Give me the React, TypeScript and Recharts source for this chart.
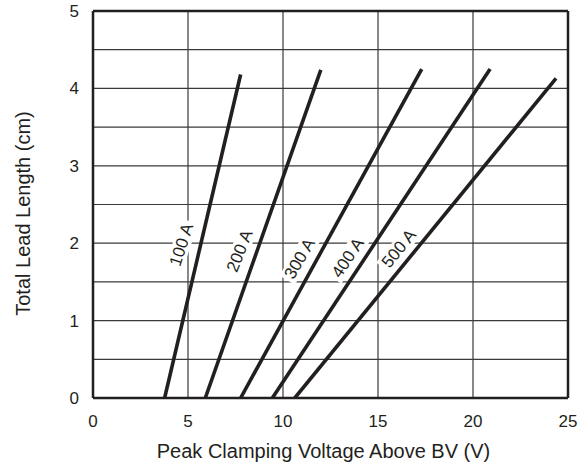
import React from 'react';
import { LineChart, Line, XAxis, YAxis, CartesianGrid, ReferenceLine, ReferenceDot } from 'recharts';

// Peak clamping voltage above BV (V) vs. total lead length (cm), per peak current
const currents = ['100 A', '200 A', '300 A', '400 A', '500 A'];
const voltageAtZero = [3.77, 5.91, 7.77, 9.44, 10.62];
const voltageAtTop = [7.77, 11.99, 17.3, 20.9, 24.37];
const lengthAtTop = [4.18, 4.24, 4.25, 4.25, 4.13];

// Where each current label sits, in data units
const labelVoltage = [4.66, 7.72, 10.88, 13.41, 16.1];
const labelLength = [1.98, 1.9, 1.8, 1.81, 1.93];
const labelAngle = [-72, -68, -60, -56, -51];

const xTicks = [0, 5, 10, 15, 20, 25];
const yTicks = [0, 0.5, 1, 1.5, 2, 2.5, 3, 3.5, 4, 4.5, 5];

const xTitle = 'Peak Clamping Voltage Above BV (V)';
const yTitle = 'Total Lead Length (cm)';

const series = currents.map((name, i) => ({
  name,
  data: [
    { v: voltageAtZero[i], len: 0 },
    { v: voltageAtTop[i], len: lengthAtTop[i] },
  ],
}));

const FONT = '"Liberation Sans", Arial, Helvetica, sans-serif';
const INK = '#231f20';

const makeLabel = (text: string, angle: number) => (props: any) => {
  const { cx, cy } = props;
  const w = 50;
  const h = 18;
  return (
    <g transform={`translate(${cx},${cy}) rotate(${angle})`}>
      <rect x={-w / 2} y={-h / 2} width={w} height={h} fill="#fff" />
      <text
        x={0}
        y={0}
        textAnchor="middle"
        dominantBaseline="central"
        fontFamily={FONT}
        fontSize={17}
        fill={INK}
      >
        {text}
      </text>
    </g>
  );
};

const XTitle = (props: any) => {
  const { viewBox } = props;
  const cx = viewBox.x + viewBox.width / 2 - 7;
  const cy = 451;
  return (
    <text x={cx} y={cy} textAnchor="middle" dominantBaseline="central" fontFamily={FONT} fontSize={20} fill={INK}>
      {xTitle}
    </text>
  );
};

const YTitle = (props: any) => {
  const { viewBox } = props;
  const cx = 23;
  const cy = viewBox.y + viewBox.height / 2 + 9;
  return (
    <text
      x={cx}
      y={cy}
      transform={`rotate(-90, ${cx}, ${cy})`}
      textAnchor="middle"
      dominantBaseline="central"
      fontFamily={FONT}
      fontSize={20}
      fill={INK}
    >
      {yTitle}
    </text>
  );
};

export default function App() {
  return (
    <div style={{ position: 'absolute', left: 0, top: 0, background: '#fff' }}>
      <LineChart width={578} height={464} margin={{ top: 11, right: 10, bottom: 0, left: 0 }}>
        <CartesianGrid stroke="#3a3a3a" strokeWidth={1.2} />
        <XAxis
          type="number"
          dataKey="v"
          domain={[0, 25]}
          ticks={xTicks}
          tickLine={false}
          axisLine={{ stroke: INK, strokeWidth: 2.5 }}
          tick={{ fill: INK, fontSize: 17, fontFamily: FONT }}
          tickMargin={11}
          height={66}
          allowDataOverflow
          label={<XTitle />}
        />
        <YAxis
          type="number"
          dataKey="len"
          domain={[0, 5]}
          ticks={yTicks}
          tickFormatter={(t: number) => (Number.isInteger(t) ? String(t) : '')}
          tickLine={false}
          axisLine={{ stroke: INK, strokeWidth: 2.5 }}
          tick={{ fill: INK, fontSize: 17, fontFamily: FONT }}
          tickMargin={8}
          width={93}
          allowDataOverflow
          label={<YTitle />}
        />
        <ReferenceLine y={5} stroke={INK} strokeWidth={2.5} />
        <ReferenceLine x={25} stroke={INK} strokeWidth={2.5} />
        {currents.map((c, i) => (
          <ReferenceDot
            key={`lbl-${c}`}
            x={labelVoltage[i]}
            y={labelLength[i]}
            shape={makeLabel(c, labelAngle[i])}
          />
        ))}
        {series.map((s) => (
          <Line
            key={s.name}
            data={s.data}
            dataKey="len"
            name={s.name}
            stroke={INK}
            strokeWidth={3.6}
            dot={false}
            activeDot={false}
            isAnimationActive={false}
          />
        ))}
      </LineChart>
    </div>
  );
}
